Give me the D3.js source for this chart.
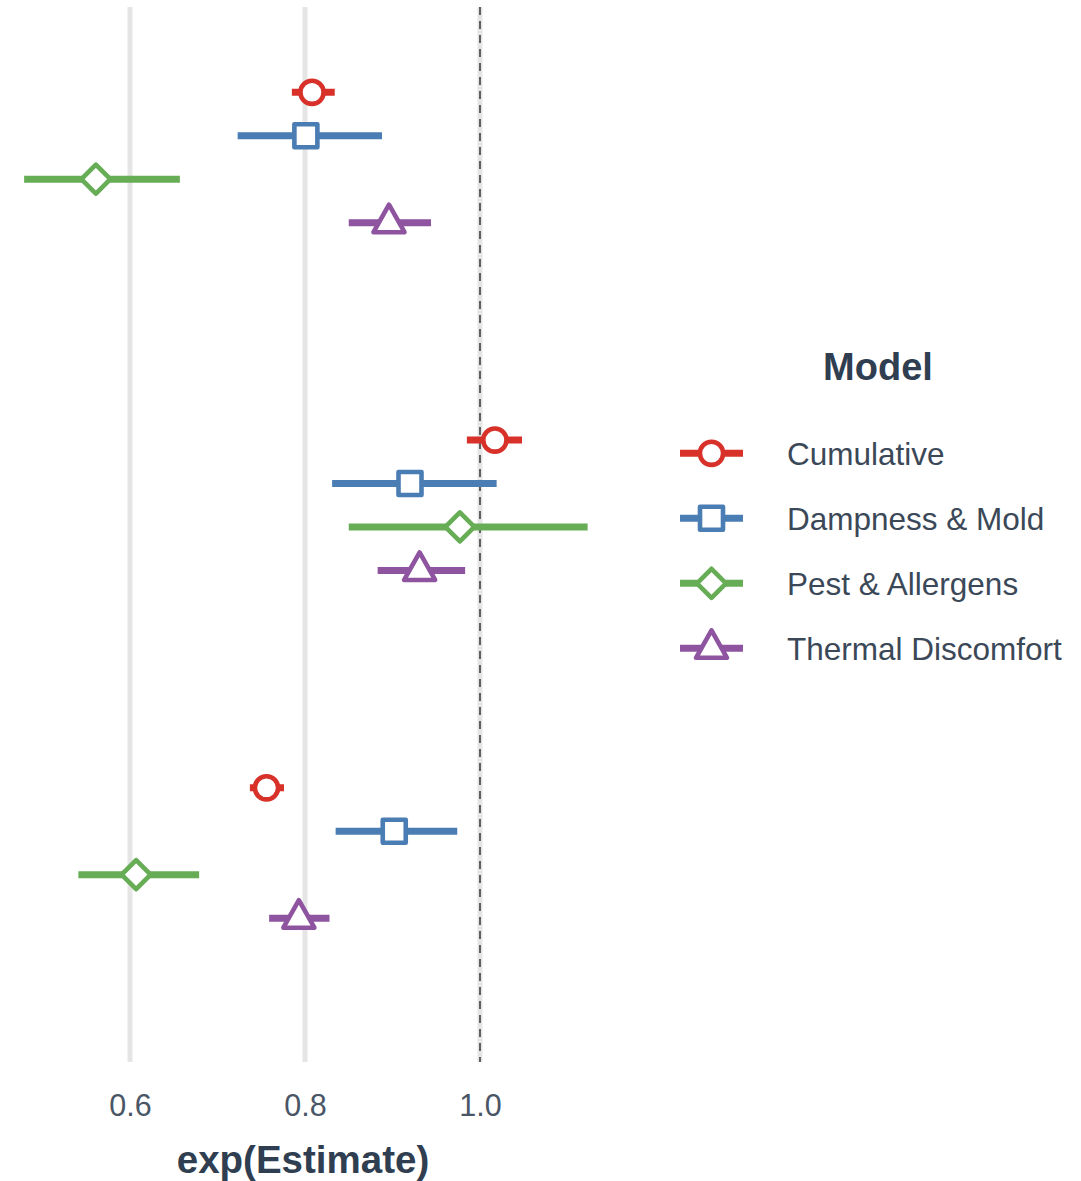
<!DOCTYPE html>
<html>
<head>
<meta charset="utf-8">
<script src="https://cdn.jsdelivr.net/npm/d3@7"></script>
<style>
  html, body { margin: 0; padding: 0; background: #fff; }
  svg { display: block; font-family: "Liberation Sans", Arial, sans-serif; }
</style>
</head>
<body>
<svg id="chart" width="1081" height="1181"></svg>
<script>
// ---- data ----
const groups = ["Group 1", "Group 2", "Group 3"];
const models = ["Cumulative", "Dampness & Mold", "Pest & Allergens", "Thermal Discomfort"];
const estimates = [
  [0.808, 0.801, 0.561, 0.896],
  [1.017, 0.920, 0.977, 0.931],
  [0.756, 0.902, 0.607, 0.793]
];
const lower = [
  [0.785, 0.723, 0.479, 0.850],
  [0.985, 0.831, 0.850, 0.883],
  [0.737, 0.835, 0.541, 0.759]
];
const upper = [
  [0.834, 0.888, 0.657, 0.944],
  [1.048, 1.019, 1.123, 0.983],
  [0.776, 0.974, 0.679, 0.828]
];
const xTicks = [0.6, 0.8, 1.0];
const refValue = 1.0;
const colors = ["#d7312a", "#4a7db4", "#66ad56", "#8e54a0"];
const shapes = ["circle", "square", "diamond", "triangle"];

// ---- layout ----
const svg = d3.select("#chart");
const panelTop = 7, panelBottom = 1062;
const x = d3.scaleLinear().domain([0.6, 1.0]).range([130, 480]);
const y = d3.scalePoint().domain(groups).range([157.5, 853]);
const dodge = d3.scalePoint().domain(models).range([-65.2, 65.2]);

const SW = 4.6;
function markerPath(shape) {
  switch (shape) {
    case "circle": return d3.arc()({innerRadius:0, outerRadius:11.6, startAngle:0, endAngle:2*Math.PI});
    case "square": return "M-11.5,-11.5L11.5,-11.5L11.5,11.5L-11.5,11.5Z";
    case "diamond": return "M0,-14.5L14.5,0L0,14.5L-14.5,0Z";
    case "triangle": return "M0,-18L15.5,9.5L-15.5,9.5Z";
  }
}

// gridlines
svg.append("g").selectAll("line").data(xTicks).join("line")
  .attr("x1", d => x(d)).attr("x2", d => x(d))
  .attr("y1", panelTop).attr("y2", panelBottom)
  .attr("stroke", "#e5e5e5").attr("stroke-width", 5);

// reference line
svg.append("line")
  .attr("x1", x(refValue)).attr("x2", x(refValue))
  .attr("y1", panelTop).attr("y2", panelBottom)
  .attr("stroke", "#2a2a2a").attr("stroke-width", 1.4)
  .attr("stroke-dasharray", "8,6");

// data rows
const rows = [];
groups.forEach((g, gi) => models.forEach((m, mi) => rows.push({
  g, m, mi, est: estimates[gi][mi], lo: lower[gi][mi], hi: upper[gi][mi]
})));

const rowG = svg.append("g").selectAll("g").data(rows).join("g")
  .attr("transform", d => `translate(0,${y(d.g) + dodge(d.m)})`);
rowG.append("line")
  .attr("x1", d => x(d.lo)).attr("x2", d => x(d.hi))
  .attr("y1", 0).attr("y2", 0)
  .attr("stroke", d => colors[d.mi]).attr("stroke-width", 7);
rowG.append("path")
  .attr("transform", d => `translate(${x(d.est)},0)`)
  .attr("d", d => markerPath(shapes[d.mi]))
  .attr("fill", "#fff").attr("stroke", d => colors[d.mi])
  .attr("stroke-width", SW).attr("stroke-linejoin", "round");

// x axis labels
const axis = d3.axisBottom(x).tickValues(xTicks).tickFormat(d3.format(".1f")).tickSize(0).tickPadding(0);
const axG = svg.append("g").attr("transform", `translate(0,1094)`).call(axis);
axG.select(".domain").remove();
axG.selectAll("text").attr("font-size", 30.5).attr("fill", "#4a5666")
  .attr("font-family", "Liberation Sans, Arial, sans-serif").attr("dy", "0.71em");

svg.append("text").attr("x", 303).attr("y", 1173).attr("text-anchor", "middle")
  .attr("font-size", 38.5).attr("font-weight", "bold").attr("fill", "#2f3e50")
  .text("exp(Estimate)");

// legend
const leg = svg.append("g");
leg.append("text").attr("x", 878).attr("y", 380).attr("text-anchor", "middle")
  .attr("font-size", 38).attr("font-weight", "bold").attr("fill", "#2f3e50").text("Model");
const legRow = leg.selectAll("g.item").data(models).join("g").attr("class", "item")
  .attr("transform", (d, i) => `translate(0,${453.3 + i * 65})`);
legRow.append("line").attr("x1", 680).attr("x2", 743).attr("y1", 0).attr("y2", 0)
  .attr("stroke", (d, i) => colors[i]).attr("stroke-width", 7);
legRow.append("path").attr("transform", "translate(711.5,0)")
  .attr("d", (d, i) => markerPath(shapes[i]))
  .attr("fill", "#fff").attr("stroke", (d, i) => colors[i])
  .attr("stroke-width", SW).attr("stroke-linejoin", "round");
legRow.append("text").attr("x", 787).attr("y", 0).attr("dy", "0.36em")
  .attr("font-size", 31.5).attr("fill", "#3b4858").text(d => d);
</script>
</body>
</html>
